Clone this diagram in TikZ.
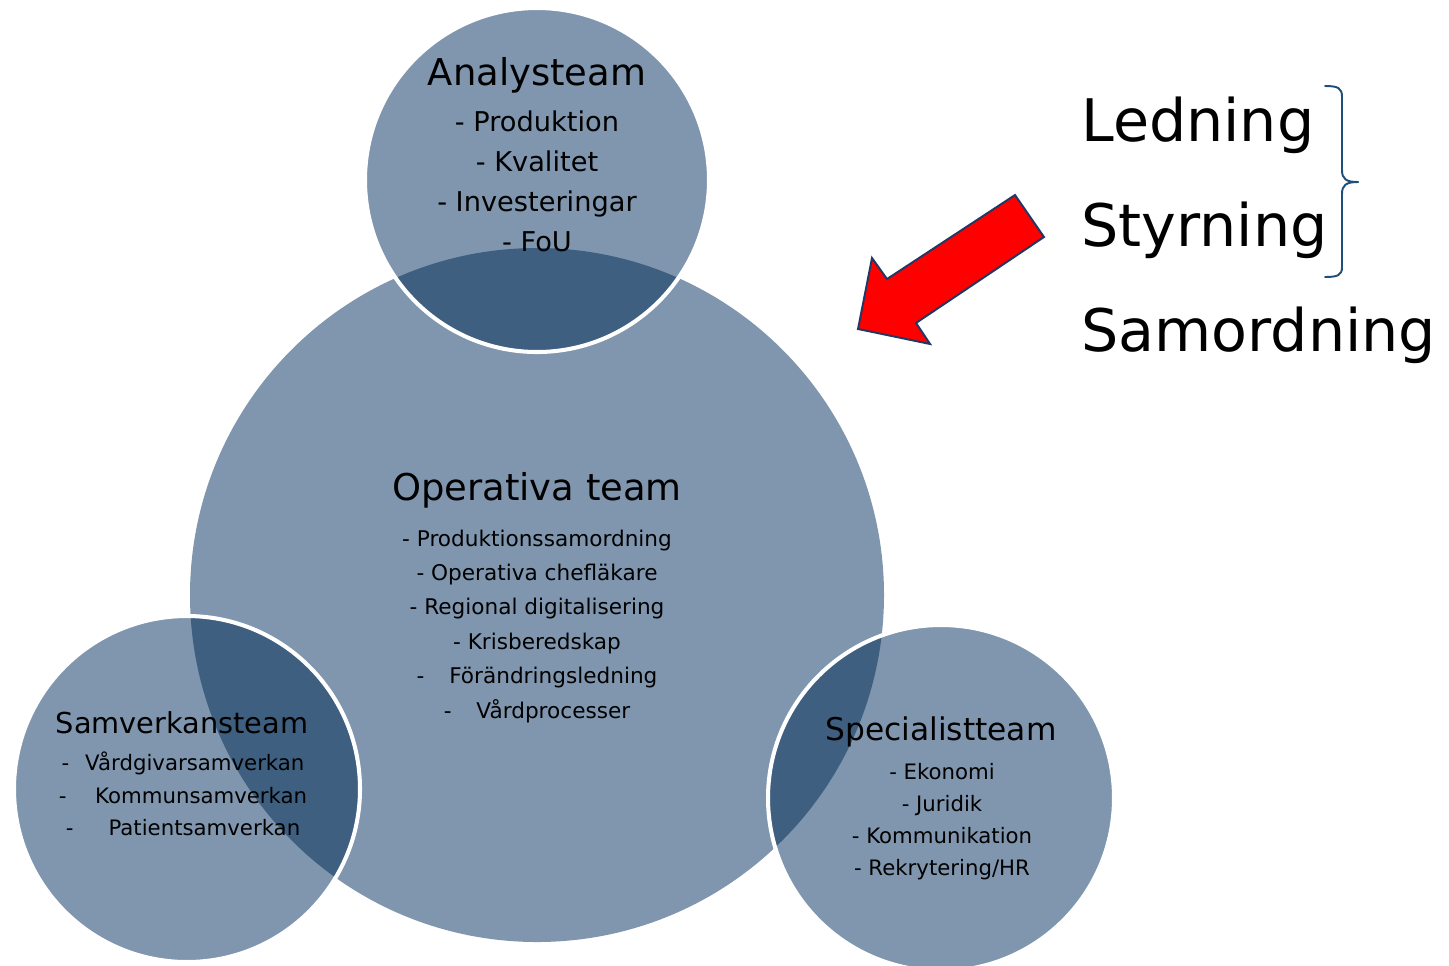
\documentclass[tikz,border=0pt]{standalone}
\usepackage{fontspec}
\setmainfont{DejaVu Sans}

\definecolor{teamfill}{RGB}{127,150,174}
\definecolor{overlapfill}{RGB}{62,95,128}
\definecolor{arrowline}{RGB}{31,56,100}
\definecolor{bracecol}{RGB}{31,78,121}
\definecolor{arrowred}{RGB}{255,0,0}

\tikzset{
  team/.style={fill=teamfill},
  teamrim/.style={draw=white, line width=2.3pt},
  heading/.style={anchor=base, inner sep=0pt, font=\fontsize{21}{25}\selectfont},
  subheading/.style={anchor=base, inner sep=0pt, font=\fontsize{#1}{20}\selectfont},
  entry/.style={anchor=base, inner sep=0pt, font=\fontsize{#1}{15}\selectfont},
  bigword/.style={anchor=base west, inner sep=0pt, font=\fontsize{33.4}{40}\selectfont}
}

\begin{document}
\begin{tikzpicture}[x=0.02cm, y=-0.02cm, line cap=round, line join=round]
	\useasboundingbox (0,0) rectangle (1449,965);

	%Coordinates
	%Circle centres
	\coordinate (opc) at (537,595);
	\coordinate (anc) at (537,180);
	\coordinate (sac) at (187,789);
	\coordinate (spc) at (941,798);

	%Circles
	\path[team] (opc) circle (347);
	\path[team] (anc) circle (172);
	\path[team] (sac) circle (173);
	\path[team] (spc) circle (173);

	%Overlaps
	\foreach \c/\r in {anc/172, sac/173, spc/173}{
		\begin{scope}
			\clip (\c) circle (\r);
			\fill[overlapfill] (opc) circle (347);
		\end{scope}
	}
	\draw[teamrim] (anc) circle (172);
	\draw[teamrim] (sac) circle (173);
	\draw[teamrim] (spc) circle (173);

	%Analysteam
	\node[heading] (antitle) at (537,85) {Analysteam};
	\foreach \t [count=\i] in {Produktion, Kvalitet, Investeringar, FoU}
		\node[entry=15.5] (an\i) at (537,{91.7+40*\i}) {- \t};

	%Operativa team
	\node[heading] (optitle) at (537,500) {Operativa team};
	\foreach \t [count=\i] in {- Produktionssamordning, - Operativa chefläkare,
		- Regional digitalisering, - Krisberedskap,
		-\hspace{1.15em}Förändringsledning, -\hspace{1.15em}Vårdprocesser}
		\node[entry=12.3] (op\i) at (537,{511.6+34.4*\i}) {\t};

	%Samverkansteam
	\node[subheading=16.4] (satitle) at (182,733) {Samverkansteam};
	\node[entry=12.1] (sa1) at (183,770.7) {-\hspace{0.75em}Vårdgivarsamverkan};
	\node[entry=12.1] (sa2) at (183,803) {-\hspace{1.35em}Kommunsamverkan};
	\node[entry=12.1] (sa3) at (183,835) {-\hspace{1.65em}Patientsamverkan};

	%Specialistteam
	\node[subheading=17.8] (sptitle) at (941,740) {Specialistteam};
	\foreach \t [count=\i] in {Ekonomi, Juridik, Kommunikation, Rekrytering/HR}
		\node[entry=12.1] (sp\i) at (942,{747.3+32*\i}) {- \t};

	%Words
	\node[bigword] (led) at (1081,141.7) {Ledning};
	\node[bigword] (sty) at (1081,246.7) {Styrning};
	\node[bigword] (sam) at (1081,351.7) {Samordning};

	%Brace
	\coordinate (brtop) at (1325,86);
	\coordinate (brtip) at (1358,182);
	\coordinate (brbot) at (1325,277);
	\draw[bracecol, line width=1.1pt] (brtop) .. controls (1338,86) and (1342,88) .. (1342,97)
		-- (1342,170) .. controls (1342,179) and (1346,182) .. (brtip);
	\draw[bracecol, line width=1.1pt] (brtip) .. controls (1346,182) and (1342,185) .. (1342,194)
		-- (1342,267) .. controls (1342,275) and (1338,277) .. (brbot);

	%Arrow
	\path[draw=arrowline, fill=arrowred, line width=1.1pt, line join=miter]
		(1015,195) -- (1044,237) -- (916,323) -- (930,344) -- (858,329)
		-- (872,258) -- (887,279) -- cycle;
\end{tikzpicture}
\end{document}
